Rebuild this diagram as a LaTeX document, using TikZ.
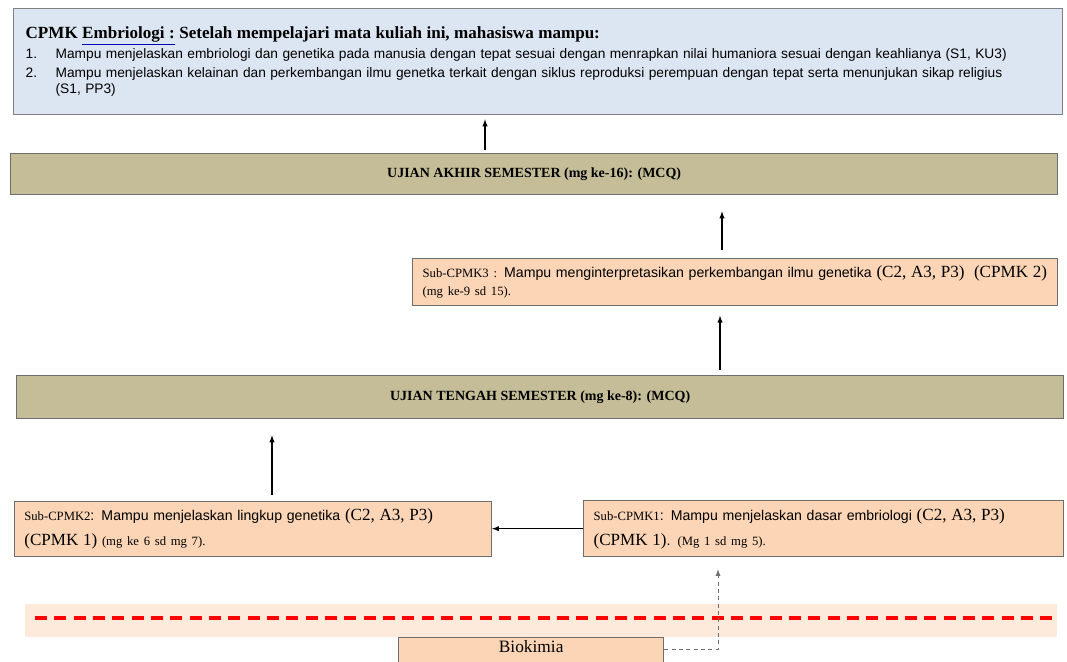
\documentclass[tikz,border=0pt]{standalone}
\usepackage{fontspec}
\setmainfont{Liberation Serif}
\newfontfamily\arialfont{Liberation Sans}
\usetikzlibrary{arrows, positioning}

\definecolor{birumuda}{HTML}{DCE6F2}
\definecolor{khaki}{HTML}{C4BD97}
\definecolor{peach}{HTML}{FBD5B5}
\definecolor{peachmuda}{HTML}{FDEADA}
\definecolor{garis}{HTML}{6E6E6E}

\newcommand{\kode}[1]{{\rmfamily\fontsize{9.5}{11}\selectfont #1}}
\newcommand{\ranah}[1]{{\rmfamily\fontsize{12.8}{14}\selectfont #1}}

\begin{document}
\begin{tikzpicture}[>=latex, x=0.75pt, y=-0.75pt,
    ujian/.style={draw=garis, line width=1pt, fill=khaki, minimum width=785.25pt,
      font=\bfseries\fontsize{10.5}{12}\selectfont},
    subcpmk/.style={draw=garis, line width=1pt, fill=peach, align=left,
      inner xsep=7.5pt, font=\arialfont\fontsize{10.6}{13.5}\selectfont},
    panah/.style={->, line width=0.8pt}]
    \useasboundingbox (0,0) rectangle (1067,661);
    \clip (0,0) rectangle (1067,661);

    \fill[peachmuda] (25,604) rectangle (1057,637);
    \draw[red, line width=2.5pt, dash pattern=on 9pt off 5.5pt] (35,618) -- (1052,618);

    \node[draw=gray, line width=1pt, fill=birumuda, anchor=north west, minimum height=79.5pt,
      text width=768.75pt, inner xsep=9pt, align=left] (cpmk) at (13,8)
      {{\bfseries\fontsize{12.8}{15}\selectfont CPMK {\color{blue!70!black}\underline{\color{black}Embriologi :}} Setelah mempelajari mata kuliah ini, mahasiswa mampu:}\\[1pt]
       \arialfont\fontsize{10.3}{13.9}\selectfont
       \makebox[22.5pt][l]{1.}Mampu menjelaskan embriologi dan genetika pada manusia dengan tepat sesuai dengan menrapkan nilai humaniora sesuai dengan keahlianya (S1, KU3)\\
       \makebox[22.5pt][l]{2.}Mampu menjelaskan kelainan dan perkembangan ilmu genetka terkait dengan siklus reproduksi perempuan dengan tepat serta menunjukan sikap religius\\
       \hspace*{22.5pt}(S1, PP3)};

    \node[ujian, anchor=north west, minimum height=30.75pt] (uas) at (10,153) {UJIAN AKHIR SEMESTER (mg ke-16): (MCQ)};
    \node[subcpmk, anchor=north west, text width=468.75pt, minimum height=35.25pt] (sub3) at (412,258)
      {\mbox{\kode{Sub-CPMK3 :} Mampu menginterpretasikan perkembangan ilmu genetika \ranah{(C2, A3, P3)\ \ (CPMK 2)}}\\
       \kode{(mg ke-9 sd 15).}};
    \node[ujian, anchor=north west, minimum height=32.25pt] (uts) at (16,375) {UJIAN TENGAH SEMESTER (mg ke-8): (MCQ)};
    \node[subcpmk, anchor=north west, text width=345pt, minimum height=42pt] (sub1) at (583,500)
      {\mbox{\kode{Sub-CPMK1}: Mampu menjelaskan dasar embriologi \ranah{(C2, A3, P3)}}\\[5pt]
       \ranah{(CPMK 1)}. \kode{(Mg 1 sd mg 5).}};
    \node[subcpmk, text width=342.75pt, minimum height=41.25pt, left=68.25pt of sub1] (sub2)
      {\mbox{\kode{Sub-CPMK2}: Mampu menjelaskan lingkup genetika \ranah{(C2, A3, P3)}}\\[5pt]
       \ranah{(CPMK 1)} \kode{(mg ke 6 sd mg 7).}};
    \node[draw=garis, line width=1pt, fill=peach, anchor=north west, minimum width=198.75pt,
      text height=8pt, text depth=24pt, inner ysep=3pt, font=\fontsize{13}{15}\selectfont] (biokimia) at (398,637) {Biokimia};

    \coordinate (p1) at (485,0);
    \coordinate (p2) at (722,0);
    \coordinate (p3) at (720,0);
    \coordinate (p4) at (272,0);
    \coordinate (belok) at (718,0);

    \draw[panah, shorten <=2pt, shorten >=3pt] (uas.north -| p1) -- (cpmk.south -| p1);
    \draw[panah, shorten <=6pt, shorten >=12pt] (sub3.north -| p2) -- (uas.south -| p2);
    \draw[panah, shorten <=4pt, shorten >=7pt] (uts.north -| p3) -- (sub3.south -| p3);
    \draw[panah, shorten <=4pt, shorten >=12pt] (sub2.north -| p4) -- (uts.south -| p4);
    \draw[panah] (sub1.west) -- (sub2.east);
    \draw[panah, dashed, draw=garis, dash pattern=on 3pt off 2.5pt, line width=0.7pt, shorten >=9pt]
      (biokimia.mid east) -| (belok |- sub1.south);
\end{tikzpicture}
\end{document}
